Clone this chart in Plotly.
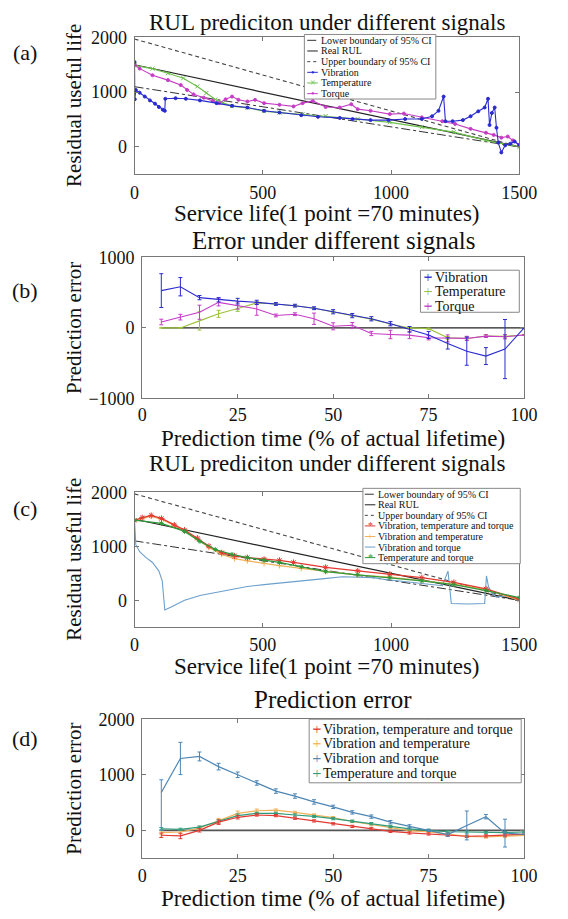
import plotly.graph_objects as go

W, H = 568, 919
FONT = "Liberation Serif"

# ---------------- data: panel (a) ----------------
a_ci_x = [0, 1500]
a_lower = [1100, 0]
a_real = [1500, 0]
a_upper = [1970, 0]

a_vib_x = [0, 1, 5, 20, 40, 60, 80, 95, 110, 118, 120, 160, 200, 255, 320, 380, 440, 505, 565, 650,
           715, 800, 850, 920, 990, 1055, 1120, 1160, 1185, 1205, 1212, 1240, 1280, 1310, 1340, 1365,
           1378, 1384, 1393, 1404, 1411, 1418, 1430, 1445, 1465, 1482, 1500]
a_vib_y = [1550, 870, 1040, 990, 920, 850, 790, 730, 680, 660, 880, 890, 880, 850, 800, 750, 720, 660, 630, 580,
           550, 530, 510, 490, 490, 510, 510, 560, 660, 920, 470, 470, 490, 560, 650, 720,
           880, 400, 620, 720, 350, 80, -100, 30, 60, 100, 30]

a_temp_x = [0, 70, 130, 190, 245, 280, 315, 345, 380, 440, 505, 565, 655, 745, 870, 995, 1120, 1245, 1370, 1500]
a_temp_y = [1490, 1430, 1345, 1255, 1105, 985, 865, 805, 745, 715, 655, 625, 595, 565, 510, 450, 360, 270, 120, 0]

a_torq_x = [0, 20, 70, 130, 180, 205, 230, 270, 305, 330, 355, 380, 405, 440, 470, 505, 565, 620, 655, 695,
            745, 800, 845, 870, 920, 995, 1050, 1120, 1200, 1250, 1310, 1370, 1400, 1430, 1455, 1475, 1500]
a_torq_y = [1500, 1430, 1310, 1220, 1130, 1040, 960, 900, 840, 800, 870, 920, 860, 830, 860, 800, 770, 740, 800, 840,
            730, 720, 780, 690, 660, 600, 610, 540, 470, 420, 330, 260, 220, 170, 190, 120, 40]

# ---------------- data: panel (b) ----------------
pct_x = [5, 10, 15, 20, 25, 30, 35, 40, 45, 50, 55, 60, 65, 70, 75, 80, 85, 90, 95, 100]
zero_x = [5, 100]
zero_y = [0, 0]
b_vib = [530, 585, 430, 400, 380, 363, 340, 316, 280, 230, 175, 130, 60, -20, -100, -220, -330, -400, -300, 0]
b_vib_err = [240, 130, 30, 30, 40, 30, 20, 20, 20, 30, 30, 30, 30, 40, 50, 80, 200, 120, 420, 0]
b_temp = [0, 0, 100, 200, 275, 355, 340, 316, 280, 230, 175, 125, 55, 0, -10, -140, -150, -115, -120, -100]
b_temp_err = [0, 0, 130, 50, 40, 20, 10, 10, 10, 10, 10, 10, 10, 10, 10, 20, 20, 20, 20, 0]
b_torq = [84, 153, 223, 363, 316, 270, 177, 195, 130, 23, 37, -79, -93, -102, -140, -149, -149, -116, -125, -100]
b_torq_err = [40, 40, 100, 50, 50, 90, 20, 20, 80, 50, 40, 30, 60, 50, 30, 50, 30, 20, 30, 0]

# ---------------- data: panel (c) ----------------
c_all_x = [0, 30, 65, 105, 155, 195, 245, 290, 340, 390, 440, 505, 565, 620, 745, 870, 995, 1120, 1245, 1370, 1500]
c_all_y = [1480, 1530, 1570, 1515, 1395, 1300, 1150, 1000, 880, 820, 790, 760, 740, 700, 610, 545, 485, 420, 330, 210, 20]
c_vtemp_x = [0, 65, 105, 155, 195, 245, 290, 340, 390, 440, 505, 565, 650, 745, 870, 995, 1120, 1245, 1370, 1500]
c_vtemp_y = [1470, 1560, 1500, 1380, 1290, 1130, 980, 850, 770, 730, 680, 640, 590, 530, 465, 430, 370, 300, 200, 0]
c_vtorq_x = [0, 2, 5, 20, 45, 70, 95, 108, 113, 118, 145, 195, 255, 320, 380, 440, 505, 565, 650, 740, 810,
             930, 970, 1090, 1200, 1222, 1228, 1235, 1300, 1365, 1372, 1380, 1395, 1410, 1450, 1500]
c_vtorq_y = [1470, 1300, 1030, 900, 790, 700, 540, 360, 60, -180, -120, 0, 90, 150, 210, 255, 290, 315, 360, 400, 435,
             420, 390, 330, 270, 540, 250, -60, -70, -60, 450, 250, 120, 60, 80, 30]
c_ttorq_x = [0, 105, 195, 255, 315, 380, 440, 505, 565, 650, 745, 870, 995, 1120, 1245, 1370, 1500]
c_ttorq_y = [1485, 1425, 1275, 1090, 940, 850, 790, 740, 700, 620, 530, 470, 420, 360, 290, 180, 50]

# ---------------- data: panel (d) ----------------
d_all = [-88, -100, 0, 147, 235, 276, 265, 218, 170, 118, 71, 29, -18, -47, -65, -88, -106, -100, -85, -70]
d_all_err = [40, 50, 30, 40, 30, 20, 20, 20, 20, 20, 20, 20, 20, 20, 20, 20, 20, 20, 20, 0]
d_vtemp = [-41, -30, 41, 176, 306, 353, 365, 323, 276, 229, 159, 100, 53, -6, -29, -65, -110, -120, -110, -90]
d_vtemp_err = [30, 30, 30, 40, 40, 30, 20, 20, 20, 20, 20, 20, 20, 20, 20, 20, 20, 20, 20, 0]
d_vtorq = [680, 1294, 1330, 1147, 1000, 853, 706, 617, 512, 423, 323, 247, 147, 71, 0, -76, 88, 246, -50, -70]
d_vtorq_err_plus = [230, 290, 80, 60, 50, 40, 40, 40, 40, 30, 30, 30, 30, 30, 20, 30, 260, 40, 250, 0]
d_vtorq_err_minus = [680, 290, 80, 60, 50, 40, 40, 40, 40, 30, 30, 30, 30, 30, 20, 30, 260, 40, 250, 0]
d_ttorq = [29, 18, 59, 159, 265, 306, 306, 276, 250, 210, 165, 120, 70, 25, 0, -25, -30, -40, -40, -30]
d_ttorq_err = [20, 20, 20, 30, 30, 20, 20, 20, 20, 20, 20, 20, 20, 20, 20, 20, 20, 20, 20, 0]

# ---------------- texts ----------------
titles = ["RUL prediciton under different signals", "Error under different signals",
          "RUL prediciton under different signals", "Prediction error"]
xtitles = ["Service life(1 point =70 minutes)", "Prediction time (% of actual lifetime)",
           "Service life(1 point =70 minutes)", "Prediction time (% of actual lifetime)"]
ytitles = ["Residual useful life", "Prediction error", "Residual useful life", "Prediction error"]
panel_tags = ["(a)", "(b)", "(c)", "(d)"]
life_ticks = [0, 500, 1000, 1500]
pct_ticks = [0, 25, 50, 75, 100]
rul_yticks = [0, 1000, 2000]
err_yticks = [-1000, 0, 1000]

# ---------------- styles ----------------
C_BLK = "#222222"
C_VIB = "#2a2ad0"
C_TEMP = "#6cbf4a"
C_TEMP_B = "#9cc23a"
C_TORQ = "#c63cc6"
C_ALL = "#e23a32"
C_VTEMP = "#f2b25a"
C_VTORQ = "#6b9fcc"
C_TTORQ = "#2f9a3a"
C_D_VTORQ = "#4e86b4"
C_D_TTORQ = "#2e9c7a"

# pixel layout
dom_px = {
    1: dict(x=(135, 536), y=(28, 168)),
    2: dict(x=(143, 541), y=(253, 397)),
    3: dict(x=(135, 536), y=(493, 631)),
    4: dict(x=(143, 541), y=(725, 867)),
}
title_y = {1: 13, 2: 236, 3: 464, 4: 705}
title_size = {1: 23, 2: 25, 3: 23, 4: 25}
xtitle_y = {1: 208, 2: 438, 3: 671, 4: 908}
xtitle_size = {1: 23, 2: 23, 3: 23, 4: 23}
tag_y = {1: 43, 2: 287, 3: 510, 4: 745}
tick_standoff = {1: 2, 2: 0, 3: 1, 4: 1}


def pxx(x):
    return x / W


def pxy(y):
    return 1 - y / H


fig = go.Figure()


def ax(n):
    return ("x" if n == 1 else f"x{n}"), ("y" if n == 1 else f"y{n}")


def line(n, x, y, color, width=1.0, dash="solid", marker=None, msize=3, err=None, errm=None, errcolor=None):
    xa, ya = ax(n)
    kw = dict(x=x, y=y, xaxis=xa, yaxis=ya, showlegend=False, hoverinfo="skip",
              line=dict(color=color, width=width, dash=dash))
    if marker:
        kw["mode"] = "lines+markers"
        kw["marker"] = dict(symbol=marker, size=msize, color=color,
                            line=dict(color=color, width=1))
    else:
        kw["mode"] = "lines"
    if err is not None:
        e = dict(type="data", array=err, visible=True, color=errcolor or color, thickness=1, width=2)
        if errm is not None:
            e["symmetric"] = False
            e["arrayminus"] = errm
        kw["error_y"] = e
    fig.add_trace(go.Scatter(**kw))


# panel (a)
line(1, a_ci_x, a_lower, "#333333", 1, "dashdot")
line(1, a_ci_x, a_real, C_BLK, 1.2)
line(1, a_ci_x, a_upper, "#444444", 1.1, "4px,3px")
line(1, a_temp_x, a_temp_y, C_TEMP, 1.2, marker="x-thin-open", msize=4)
line(1, a_torq_x, a_torq_y, C_TORQ, 1.1, marker="circle", msize=3)
line(1, a_vib_x, a_vib_y, C_VIB, 1.1, marker="circle", msize=3)

# panel (b)
line(2, zero_x, zero_y, C_BLK, 1.3)
line(2, pct_x, b_temp, C_TEMP_B, 1.1, err=b_temp_err)
line(2, pct_x, b_torq, C_TORQ, 1.1, err=b_torq_err)
line(2, pct_x, b_vib, C_VIB, 1.1, err=b_vib_err)

# panel (c)
line(3, a_ci_x, a_lower, "#333333", 1, "dashdot")
line(3, a_ci_x, a_real, C_BLK, 1.2)
line(3, a_ci_x, a_upper, "#444444", 1.1, "4px,3px")
line(3, c_vtorq_x, c_vtorq_y, C_VTORQ, 1.1)
line(3, c_vtemp_x, c_vtemp_y, C_VTEMP, 1.3, marker="cross-thin-open", msize=4)
line(3, c_all_x, c_all_y, C_ALL, 1.3, marker="asterisk-open", msize=5)
line(3, c_ttorq_x, c_ttorq_y, C_TTORQ, 1.3, marker="asterisk-open", msize=4)

# panel (d)
line(4, zero_x, zero_y, "#555555", 1.6)
line(4, pct_x, d_vtemp, C_VTEMP, 1.2, err=d_vtemp_err)
line(4, pct_x, d_ttorq, C_D_TTORQ, 1.2, err=d_ttorq_err)
line(4, pct_x, d_all, C_ALL, 1.2, err=d_all_err)
line(4, pct_x, d_vtorq, C_D_VTORQ, 1.2, err=d_vtorq_err_plus, errm=d_vtorq_err_minus)

# axes
axis_common = dict(showline=True, linecolor="#777777", linewidth=1, mirror="ticks", ticks="inside",
                   ticklen=4, tickcolor="#777777", showgrid=False, zeroline=False,
                   tickfont=dict(family=FONT, size=18, color="#111111"))
layout_axes = {}
xranges = {1: [0, 1500], 2: [0, 100], 3: [0, 1500], 4: [0, 100]}
xticks = {1: life_ticks, 2: pct_ticks, 3: life_ticks, 4: pct_ticks}
yranges = {1: [-500, 2000], 2: [-1000, 1000], 3: [-500, 2000], 4: [-500, 2000]}
yticks = {1: rul_yticks, 2: err_yticks, 3: rul_yticks, 4: rul_yticks}
for n in range(1, 5):
    d = dom_px[n]
    xname = "xaxis" if n == 1 else f"xaxis{n}"
    yname = "yaxis" if n == 1 else f"yaxis{n}"
    xa, ya = ax(n)
    layout_axes[xname] = dict(axis_common, domain=[pxx(d["x"][0]), pxx(d["x"][1])], anchor=ya,
                              range=xranges[n], tickvals=xticks[n],
                              ticklabelstandoff=tick_standoff[n])
    layout_axes[yname] = dict(axis_common, domain=[pxy(d["y"][1]), pxy(d["y"][0])], anchor=xa,
                              range=yranges[n], tickvals=yticks[n], ticklabelstandoff=3)

annotations = []
shapes = []


def text(x, y, s, size, anchor="center", angle=0, color="#111111"):
    annotations.append(dict(x=pxx(x), y=pxy(y), xref="paper", yref="paper", text=s, showarrow=False,
                            xanchor=anchor, yanchor="middle", textangle=angle,
                            font=dict(family=FONT, size=size, color=color)))


for n in range(1, 5):
    d = dom_px[n]
    cx = (d["x"][0] + d["x"][1]) / 2
    cy = (d["y"][0] + d["y"][1]) / 2
    text(cx, title_y[n], titles[n - 1], title_size[n])
    text(cx, xtitle_y[n], xtitles[n - 1], xtitle_size[n])
    text(72, cy, ytitles[n - 1], 21, angle=-90)
    text(21, tag_y[n], panel_tags[n - 1], 22)


def legend(box, entries, y0, dy, fsize, sx0, sx1, tx):
    shapes.append(dict(type="rect", xref="paper", yref="paper", x0=pxx(box[0]), x1=pxx(box[1]),
                       y0=pxy(box[3]), y1=pxy(box[2]), line=dict(color="#888888", width=1),
                       fillcolor="white", layer="above"))
    for i, (name, color, dash, glyph) in enumerate(entries):
        yy = y0 + i * dy
        if sx1 > sx0:
            shapes.append(dict(type="line", xref="paper", yref="paper", x0=pxx(sx0), x1=pxx(sx1),
                               y0=pxy(yy), y1=pxy(yy), line=dict(color=color, width=1, dash=dash),
                               layer="above"))
        if glyph:
            text((sx0 + sx1) / 2, yy, glyph, fsize, color=color)
        text(tx, yy, name, fsize, anchor="left")


legend((312, 449, 25, 91), [
    ("Lower boundary of 95% CI", "#333333", "dashdot", ""),
    ("Real RUL", C_BLK, "solid", ""),
    ("Upper boundary of 95% CI", "#444444", "dot", ""),
    ("Vibration", C_VIB, "solid", "•"),
    ("Temperature", C_TEMP, "solid", "×"),
    ("Torque", C_TORQ, "solid", "•"),
], 31, 10.9, 10, 315, 326, 327)

legend((433, 536, 266, 309), [
    ("Vibration", C_VIB, "solid", "+"),
    ("Temperature", C_TEMP_B, "solid", "+"),
    ("Torque", C_TORQ, "solid", "+"),
], 273, 14.8, 14, 437, 445, 446)

legend((373, 537, 489, 566), [
    ("Lower boundary of 95% CI", "#333333", "dashdot", ""),
    ("Real RUL", C_BLK, "solid", ""),
    ("Upper boundary of 95% CI", "#444444", "dot", ""),
    ("Vibration, temperature and torque", C_ALL, "solid", "*"),
    ("Vibration and temperature", C_VTEMP, "solid", "+"),
    ("Vibration and torque", C_VTORQ, "solid", ""),
    ("Temperature and torque", C_TTORQ, "solid", "*"),
], 495, 10.8, 10, 375, 386, 387)

legend((317, 538, 725, 790), [
    ("Vibration, temperature and torque", C_ALL, "solid", "+"),
    ("Vibration and temperature", C_VTEMP, "solid", "+"),
    ("Vibration and torque", C_D_VTORQ, "solid", "+"),
    ("Temperature and torque", C_D_TTORQ, "solid", "+"),
], 735, 15.2, 14, 321, 329, 329)

fig.update_layout(width=W, height=H, margin=dict(l=0, r=0, t=0, b=0), paper_bgcolor="white",
                  plot_bgcolor="white", showlegend=False, annotations=annotations, shapes=shapes,
                  **layout_axes)

fig.write_html("out.html")
